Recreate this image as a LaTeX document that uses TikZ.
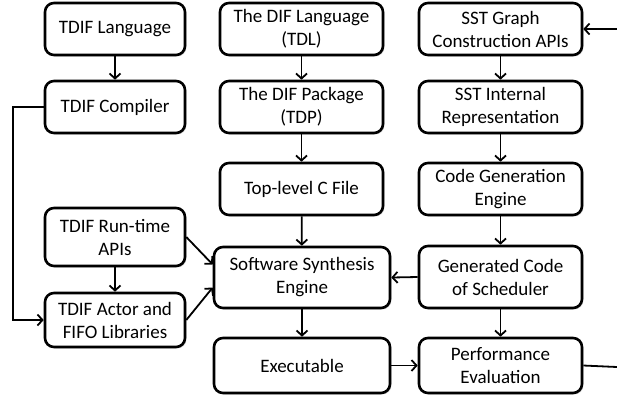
\documentclass[tikz,border=0pt]{standalone}
\usepackage{fontspec}
\setmainfont{Carlito}
\usetikzlibrary{arrows.meta,shadows,calc}
\begin{document}
\begin{tikzpicture}[x=1pt,y=-1pt,
  box/.style={draw=black, line width=2.6pt, rounded corners=9pt, fill=white,
    align=center, inner sep=2pt, font=\fontsize{19}{23}\selectfont,
    drop shadow={shadow xshift=1.5pt, shadow yshift=-1.5pt, opacity=0.25}},
  conn/.style={line width=1.8pt, -{Straight Barb[length=5pt,width=11pt,line width=1.8pt]}},
  plain/.style={line width=1.8pt}]
\useasboundingbox (0,0) rectangle (617,400);
% column 1
\node[box, minimum width=140pt, minimum height=52pt] (tlang) at (115,29) {TDIF Language};
\node[box, minimum width=140pt, minimum height=52pt] (tcomp) at (115,107) {TDIF Compiler};
\node[box, minimum width=140pt, minimum height=58pt] (trun) at (115,237) {TDIF Run-time\\APIs};
\node[box, minimum width=140pt, minimum height=54pt] (tact) at (115,320) {TDIF Actor and\\FIFO Libraries};
% column 2
\node[box, minimum width=163pt, minimum height=52pt] (dlang) at (301.5,29) {The DIF Language\\(TDL)};
\node[box, minimum width=163pt, minimum height=52pt] (dpack) at (301.5,107) {The DIF Package\\(TDP)};
\node[box, minimum width=163pt, minimum height=52pt] (topc) at (301.5,189) {Top-level C File};
\node[box, minimum width=176pt, minimum height=61pt] (sse) at (302,277.5) {Software Synthesis\\Engine};
\node[box, minimum width=176pt, minimum height=55pt] (exe) at (302,365.5) {Executable};
% column 3
\node[box, minimum width=163pt, minimum height=52pt] (sstg) at (500.5,29) {SST Graph\\Construction APIs};
\node[box, minimum width=163pt, minimum height=52pt] (ssti) at (500.5,107) {SST Internal\\Representation};
\node[box, minimum width=163pt, minimum height=52pt] (cgen) at (500.5,189) {Code Generation\\Engine};
\node[box, minimum width=163pt, minimum height=62pt] (gcode) at (500.5,277) {Generated Code\\of Scheduler};
\node[box, minimum width=163pt, minimum height=55pt] (perf) at (500.5,365.5) {Performance\\Evaluation};
% free ends
\coordinate (rin) at (617,29);
\coordinate (rout) at (617,367);
% connectors
\draw[conn] (tlang) -- (tcomp);
\draw[conn] (tcomp.west) -- ++(-31,0) |- (tact.west);
\draw[conn] (trun) -- (tact);
\draw[conn] (trun.east) -- ($(sse.west)+(0,-13)$);
\draw[conn] (tact.east) -- ($(sse.west)+(0,10)$);
\draw[conn] (dlang) -- (dpack);
\draw[conn] (dpack) -- (topc);
\draw[conn] (topc) -- (sse);
\draw[conn] (sse) -- (exe);
\draw[conn] (exe) -- (perf);
\draw[conn] (sstg) -- (ssti);
\draw[conn] (ssti) -- (cgen);
\draw[conn] (cgen) -- (gcode);
\draw[conn] (gcode) -- (perf);
\draw[conn] (gcode.west) -- (sse.east);
\draw[conn] (rin) -- (sstg.east);
\draw[plain] (perf.east) -- (rout);
\end{tikzpicture}
\end{document}
